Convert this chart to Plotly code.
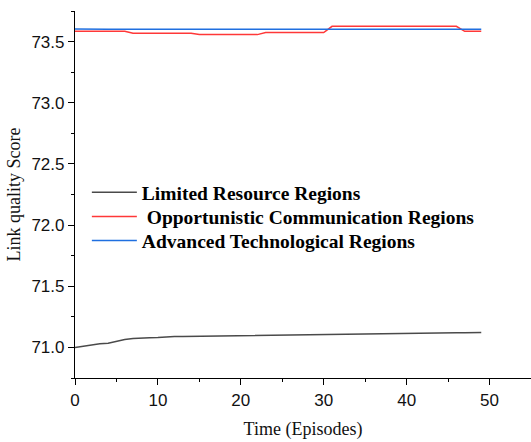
import plotly.graph_objects as go

episodes = list(range(50))

limited = [71.000, 71.010, 71.025, 71.030, 71.035, 71.050, 71.065, 71.072, 71.078, 71.080,
           71.082, 71.087, 71.090, 71.090, 71.091, 71.092, 71.093, 71.093, 71.094, 71.095,
           71.095, 71.096, 71.097, 71.098, 71.099, 71.100, 71.101, 71.102, 71.102, 71.103,
           71.104, 71.105, 71.106, 71.107, 71.108, 71.109, 71.110, 71.111, 71.112, 71.113,
           71.114, 71.115, 71.116, 71.117, 71.118, 71.119, 71.120, 71.120, 71.121, 71.122]

opportunistic = ([73.584] * 7 + [73.568] * 8 + [73.557] * 8 + [73.574] * 8 +
                 [73.625] * 16 + [73.584] * 3)

advanced = [73.602] + [73.600] * 49

names = ["Limited Resource Regions", " Opportunistic Communication Regions",
         "Advanced Technological Regions"]
colors = ["#4a4a4a", "#ff3838", "#1f6fe0"]
series = [limited, opportunistic, advanced]
legend_ids = ["legend", "legend2", "legend3"]
legend_y = [0.505, 0.4395, 0.374]

x_ticks = [0, 10, 20, 30, 40, 50]
y_ticks = [71.0, 71.5, 72.0, 72.5, 73.0, 73.5]

fig = go.Figure()
for name, col, vals, lid in zip(names, colors, series, legend_ids):
    fig.add_trace(go.Scatter(x=episodes, y=vals, mode="lines", name=name, legend=lid,
                             line=dict(color=col, width=1.5)))

axis_common = dict(showline=True, linecolor="black", linewidth=1.2, ticks="outside",
                   ticklen=6, tickwidth=1.2, tickcolor="black", showgrid=False,
                   zeroline=False, mirror=False, automargin=False,
                   tickfont=dict(family="Liberation Sans, Arial", size=17, color="#111"))

legend_font = dict(family="Liberation Serif, Times New Roman", size=19.5,
                   color="black", weight="bold")
legends = {}
for lid, ly in zip(legend_ids, legend_y):
    legends[lid] = dict(x=0.026, y=ly, xanchor="left", yanchor="middle",
                        bgcolor="rgba(0,0,0,0)", itemwidth=45, font=legend_font)

fig.update_layout(
    width=531, height=442,
    margin=dict(l=75, r=0, t=11, b=64),
    paper_bgcolor="white", plot_bgcolor="white",
    xaxis=dict(range=[0, 55], tickvals=x_ticks, ticktext=[str(v) for v in x_ticks],
               minor=dict(tickvals=[5, 15, 25, 35, 45], ticks="outside", ticklen=3,
                          tickcolor="black", tickwidth=1),
               title=dict(text="Time (Episodes)", standoff=13,
                          font=dict(family="Liberation Serif, Times New Roman", size=18,
                                    color="#111")),
               **axis_common),
    yaxis=dict(range=[70.75, 73.75], tickvals=y_ticks,
               ticktext=["%.1f" % v for v in y_ticks],
               minor=dict(tickvals=[70.75, 71.25, 71.75, 72.25, 72.75, 73.25, 73.75],
                          ticks="outside", ticklen=3, tickcolor="black", tickwidth=1),
               title=dict(text="Link quality Score", standoff=6,
                          font=dict(family="Liberation Serif, Times New Roman", size=18,
                                    color="#111")),
               **axis_common),
    showlegend=True,
    **legends,
)

fig.write_html("out.html", config={"displayModeBar": False},
               post_script="document.body.style.margin='0';document.body.style.overflow='hidden';")
